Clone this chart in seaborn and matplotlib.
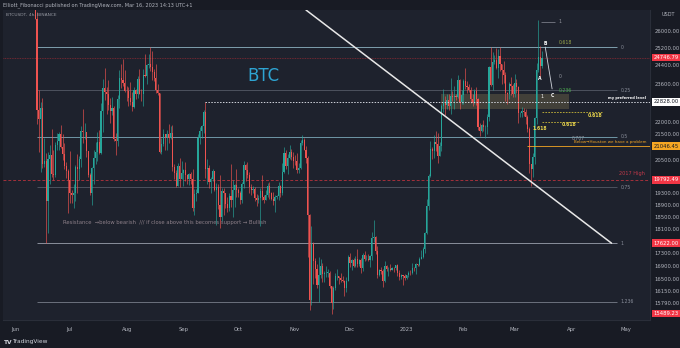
import numpy as np
import pandas as pd
import matplotlib
matplotlib.use("Agg")
import matplotlib.pyplot as plt
import seaborn as sns

# ---------------- data (daily BTCUSDT, read approximately) ----------------
start_date = "2022-06-10"
first_open = 30100
close = [
    # Jun 10-30
    29090, 28420, 26570, 22480, 22130, 22580, 20380, 20470, 19020, 20550, 20710, 20000, 19970, 21090, 21230, 21500, 21030, 20730, 20280, 20100, 19780,
    # Jul
    19300, 19240, 19310, 20240, 20180, 20560, 21640, 21590, 21590, 20850, 19960, 19330, 20230, 20590, 20830, 21200, 20790, 22430, 23400, 23220, 23150, 22680, 22450, 22580, 21310, 21250, 22950, 23850, 23770, 23640, 23290,
    # Aug
    23270, 22990, 22820, 22620, 23310, 23170, 23810, 23160, 23150, 23950, 23930, 24400, 24440, 24310, 24100, 23860, 23340, 23190, 20830, 21140, 21520, 21400, 21530, 21370, 21560, 20240, 20040, 19550, 20290, 19800, 20050,
    # Sep
    20130, 19950, 19830, 19990, 19800, 18790, 19290, 19320, 21360, 21650, 21830, 22400, 20170, 20230, 19700, 19800, 20110, 19420, 19540, 18880, 18480, 19400, 19300, 18920, 18810, 19220, 19080, 19410, 19590, 19420,
    # Oct
    19310, 19060, 19630, 20340, 20160, 19960, 19530, 19420, 19450, 19130, 19060, 19150, 19380, 19180, 19070, 19260, 19550, 19330, 19120, 19040, 19160, 19200, 19570, 19330, 20090, 20770, 20300, 20600, 20810, 20630, 20490,
    # Nov
    20480, 20150, 20210, 21150, 21300, 20910, 20590, 18540, 15880, 17590, 17070, 16810, 16330, 16620, 16900, 16660, 16690, 16700, 16700, 16280, 15780, 16230, 16600, 16600, 16520, 16460, 16430, 16220, 16440, 17170,
    # Dec
    16980, 17090, 16890, 17110, 16970, 17090, 16840, 17230, 17130, 17130, 17090, 17210, 17780, 17810, 17360, 16630, 16780, 16740, 16440, 16900, 16820, 16820, 16780, 16840, 16830, 16920, 16700, 16550, 16630, 16600, 16540,
    # Jan
    16620, 16680, 16670, 16850, 16830, 16950, 16940, 17130, 17180, 17440, 17940, 18850, 19930, 20950, 20870, 21190, 21130, 20680, 21070, 22670, 22780, 22710, 22920, 22630, 23060, 23010, 23080, 23030, 23740, 22830, 23130,
    # Feb
    23730, 23490, 23430, 23330, 22930, 22760, 23260, 22960, 21800, 21630, 21860, 21780, 21780, 22200, 24330, 23520, 24570, 24630, 24280, 24840, 24450, 24190, 23950, 23180, 23150, 23560, 23490, 23140,
    # Mar 1-16
    23630, 23470, 22350, 22350, 22430, 22410, 22200, 21700, 20360, 20190, 20620, 22160, 24190, 24770, 24380, 24746.79,
]
high = [
    30350, 29440, 28560, 26890, 23330, 22800, 22980, 21360, 20790, 20820, 21080, 21720, 20900, 21200, 21560, 21600, 21870, 21520, 21180, 20430, 20180,
    20870, 19420, 19650, 20350, 20730, 20670, 21840, 22530, 21950, 21610, 20870, 20050, 20260, 20880, 21200, 21590, 21680, 22780, 23800, 24280, 23440, 23760, 23000, 23010, 22650, 21560, 23100, 24200, 24440, 24670, 24200,
    23500, 23470, 23650, 23220, 23460, 23350, 23930, 24240, 23360, 24230, 24920, 24460, 24890, 25211, 25050, 24240, 24450, 23600, 23210, 21380, 21700, 21520, 21680, 21900, 21820, 21880, 20360, 20140, 20420, 20580, 20490,
    20200, 20440, 20000, 20020, 20060, 20180, 19460, 19450, 21500, 21800, 21860, 22490, 22800, 20540, 20330, 19900, 20190, 20100, 19690, 19640, 19960, 19490, 19500, 19310, 19180, 19310, 20380, 19790, 19650, 20190,
    19480, 19400, 19710, 20480, 20370, 20460, 20060, 19620, 19560, 19530, 19270, 19230, 19510, 19950, 19230, 19420, 19680, 19700, 19360, 19350, 19250, 19260, 19700, 19600, 20410, 21020, 20880, 20750, 21080, 20930, 20840,
    20700, 20800, 20390, 21300, 21480, 21370, 21070, 20670, 18590, 18190, 17660, 17150, 16950, 17190, 17130, 17000, 16750, 16900, 16820, 16750, 16290, 16300, 16680, 16810, 16600, 16700, 16600, 16480, 16550, 17250,
    17320, 17110, 17160, 17200, 17430, 17110, 17140, 17300, 17360, 17230, 17270, 17240, 18000, 18390, 17850, 17530, 16800, 16860, 16820, 17060, 16920, 16870, 16950, 16870, 16860, 16940, 16970, 16780, 16660, 16630, 16640,
    16630, 16760, 16770, 16990, 16880, 16990, 16960, 17170, 17400, 17490, 17990, 19100, 20000, 21260, 21000, 21470, 21650, 21560, 21190, 22750, 23370, 23080, 23170, 23160, 23820, 23290, 23500, 23170, 23960, 23790, 23320,
    23810, 24260, 23700, 23590, 23440, 23160, 23360, 23450, 22990, 21940, 21900, 22090, 21890, 22330, 24370, 25250, 25020, 24880, 25190, 25120, 25250, 24480, 24600, 24120, 23220, 23680, 23880, 23600,
    24000, 23780, 23480, 22420, 22610, 22560, 22530, 22270, 21800, 20370, 20800, 22190, 24490, 26500, 25280, 25060,
]
low = [
    28850, 28100, 26560, 21920, 20840, 20070, 20230, 20240, 17622, 17960, 19640, 19900, 19770, 19880, 20880, 20900, 20960, 20510, 20190, 19850, 18630,
    18970, 18980, 18780, 19040, 19300, 19770, 20250, 21180, 21320, 20650, 19880, 19230, 18910, 19620, 20380, 20480, 20750, 20760, 21580, 22900, 22340, 22500, 21950, 22260, 21250, 20700, 21040, 22580, 23410, 23500, 23230,
    22850, 22670, 22680, 22430, 22580, 22930, 22990, 23150, 22860, 22660, 23900, 23580, 24300, 24150, 23770, 23700, 23180, 23100, 20780, 20760, 21060, 20890, 20890, 21150, 21320, 20110, 19810, 19530, 19550, 19540, 19800,
    19560, 19750, 19650, 19600, 19640, 18680, 18540, 19020, 19300, 21110, 21360, 21550, 19860, 19620, 19500, 19330, 19750, 19390, 18230, 18750, 18130, 18360, 18540, 18810, 18640, 18680, 18820, 18470, 18840, 19160,
    19160, 18920, 18960, 19500, 19730, 19850, 19320, 19250, 19310, 19020, 18860, 18980, 18190, 19080, 18970, 19070, 19160, 19100, 19070, 18900, 18650, 19110, 19070, 19160, 19240, 20050, 20200, 20000, 20560, 20530, 20220,
    20350, 20050, 20030, 20180, 21080, 20880, 20390, 17170, 15590, 15750, 16360, 16530, 16230, 15820, 16530, 16400, 16410, 16560, 16550, 16240, 15476, 15630, 16170, 16460, 16360, 16400, 16400, 15990, 16110, 16430,
    16860, 16790, 16860, 16880, 16870, 16910, 16680, 16740, 17060, 17090, 17070, 16870, 17080, 17660, 17280, 16530, 16580, 16660, 16260, 16400, 16750, 16590, 16750, 16780, 16730, 16790, 16600, 16460, 16490, 16330, 16480,
    16500, 16550, 16610, 16650, 16750, 16660, 16910, 16910, 17110, 17140, 17310, 17910, 18720, 19890, 20550, 20610, 20860, 20400, 20660, 20860, 22420, 22290, 22520, 22470, 22330, 22850, 22530, 22880, 22990, 22540, 22720,
    22750, 23370, 23200, 23250, 22760, 22630, 22750, 22680, 21690, 21450, 21600, 21630, 21350, 21520, 22050, 23510, 23340, 24450, 24250, 23840, 24150, 23580, 23610, 22850, 22720, 22960, 23100, 23020,
    23030, 23210, 21970, 22200, 22180, 22250, 21930, 21590, 20050, 19550, 19900, 20370, 21900, 24110, 23890, 24270,
]

# price-axis ticks and tagged price labels
y_ticks = [26000, 25200, 24400, 23600, 22000, 21500, 20500, 19300, 18900, 18500, 18100, 17300, 16900, 16500, 16150, 15790]
tag_prices = [24746.79, 22828.00, 21046.45, 19792.49, 17622.00, 15489.23]
tag_colors = ["#f23645", "#ffffff", "#f5a623", "#f23645", "#f23645", "#f23645"]
tag_text_colors = ["white", "#131722", "#131722", "white", "white", "white"]

month_ticks = ["2022-06-01", "2022-07-01", "2022-08-01", "2022-09-01", "2022-10-01", "2022-11-01",
               "2022-12-01", "2023-01-01", "2023-02-01", "2023-03-01", "2023-04-01", "2023-05-01"]
month_labels = ["Jun", "Jul", "Aug", "Sep", "Oct", "Nov", "Dec", "2023", "Feb", "Mar", "Apr", "May"]

# Fibonacci retracement (Jun low -> Aug high)
fib_levels = ["0", "0.25", "0.5", "0.75", "1", "1.236"]
fib_prices = [25211, 23314, 21416, 19519, 17622, 15831]
fib_colors = ["#7f9fae", "#4d525e", "#6f97a6", "#4d525e", "#8a8f9b", "#6c717d"]
fib_start, fib_end = "2022-06-13", "2023-04-26"

# trend line (two anchor points)
trend_dates = ["2022-11-07", "2023-04-23"]
trend_prices = [27000, 17620]

# zone box
zone_dates = ["2023-01-20", "2023-03-31"]
zone_prices = [22520, 23150]

# wave labels (text, date, price, colour)
wave_text = ["1", "B", "0.618", "A", "0", "0.236", "C", "1", "1.618", "0.707", "0.618", "0.618"]
wave_date = ["2023-03-25", "2023-03-17", "2023-03-25", "2023-03-14", "2023-03-25", "2023-03-25",
             "2023-03-21", "2023-03-15", "2023-03-11", "2023-04-01", "2023-04-10", "2023-03-27"]
wave_price = [26420, 25400, 25440, 23830, 23910, 23320, 23080, 23040, 21720, 21330, 22260, 21900]
wave_color = ["#9598a1", "#ffffff", "#9aa84a", "#ffffff", "#9598a1", "#4caf50",
              "#ffffff", "#ffffff", "#e8d44d", "#9598a1", "#e8d44d", "#e8d44d"]
wave_path_dates = ["2023-03-17 18:00", "2023-03-21 12:00"]
wave_path_prices = [25230, 23370]
fib_dash_prices = [22410, 21990]
fib_dash_start = ["2023-03-16", "2023-03-16"]
fib_dash_end = ["2023-04-18", "2023-04-05"]

key_2017_high = 19792.49
preferred_level = 22828.00
houston_level = 21046.45
last_price = 24746.79

# ---------------- style ----------------
BG = "#1e222d"
HDR = "#181b24"
UP, DOWN = "#26a69a", "#ef5350"
TXT = "#b2b5be"

sns.set_style("dark", {"axes.facecolor": BG, "figure.facecolor": HDR,
                       "axes.edgecolor": "#2a2e39", "grid.color": "#262a35"})
plt.rcParams["font.family"] = ["DejaVu Sans"]

W, H = 680, 348
fig = plt.figure(figsize=(W / 100, H / 100), dpi=100)
ax = fig.add_axes([3 / W, 1 - 320 / H, 647 / W, 310 / H])
ax.set_facecolor(BG)

dates = pd.date_range(start_date, periods=len(close), freq="D")
c = np.array(close, dtype=float)
o = np.r_[first_open, c[:-1]]
hi = np.array(high, dtype=float)
lo = np.array(low, dtype=float)
up = c >= o
cols = np.where(up, UP, DOWN)

ax.set_yscale("log")
ax.set_ylim(15310, 27000)
ax.set_xlim(pd.Timestamp("2022-05-25 10:00"), pd.Timestamp("2023-05-14"))

# candles
ax.vlines(dates, lo, hi, colors=cols, lw=0.45, zorder=3)
ax.bar(dates, np.maximum(np.abs(c - o), 1), bottom=np.minimum(o, c), width=0.6,
       color=cols, lw=0, zorder=4)

# Fibonacci lines
for lvl, p, col in zip(fib_levels, fib_prices, fib_colors):
    ax.hlines(p, pd.Timestamp(fib_start), pd.Timestamp(fib_end), colors=col, lw=0.7, zorder=2)
    ax.text(pd.Timestamp("2023-04-28"), p, lvl, color="#8a8f9b", fontsize=3.3, va="center", ha="left")

# current price line
ax.axhline(last_price, color="#8c2a33", lw=0.6, ls=(0, (1, 1)), zorder=1)
# 2017 high
ax.axhline(key_2017_high, color="#a3303b", lw=0.7, ls=(0, (3, 2)), zorder=2)
ax.text(pd.Timestamp("2023-04-27"), key_2017_high * 1.006, "2017 High", color="#c2394a",
        fontsize=3.6, va="bottom", ha="left")
# preferred level
ax.hlines(preferred_level, pd.Timestamp("2022-09-13"), pd.Timestamp("2023-05-14"),
          colors="#d1d4dc", lw=0.7, ls=(0, (1.5, 1.5)), zorder=5)
ax.text(pd.Timestamp("2023-05-12"), preferred_level * 1.004, "my preferred level",
        color="white", fontsize=2.6, va="bottom", ha="right", fontweight="bold")
# houston line
ax.hlines(houston_level, pd.Timestamp("2023-03-08"), pd.Timestamp("2023-05-14"),
          colors="#f5a623", lw=0.6, zorder=5)
ax.text(pd.Timestamp("2023-05-12"), houston_level * 1.003, "Below\u2192Houston we have a problem",
        color="#f5a623", fontsize=2.9, va="bottom", ha="right")

# zone box
ax.fill_between(pd.to_datetime(zone_dates), zone_prices[0], zone_prices[1],
                color="#b09a5e", alpha=0.25, lw=0, zorder=2)

# trend line
ax.plot(pd.to_datetime(trend_dates), trend_prices, color="#e8e8e8", lw=1.1, zorder=6)

# wave annotation
ax.plot(pd.to_datetime(wave_path_dates), wave_path_prices, color="#d1d4dc", lw=0.6, zorder=7)
ax.hlines(26420, pd.Timestamp("2023-03-15 12:00"), pd.Timestamp("2023-03-23"),
          colors="#787b86", lw=0.6, zorder=7)
for p, d0, d1 in zip(fib_dash_prices, fib_dash_start, fib_dash_end):
    ax.hlines(p, pd.Timestamp(d0), pd.Timestamp(d1), colors="#c9b83a", lw=0.6,
              ls=(0, (2, 1.5)), zorder=7)
for t, d, p, col in zip(wave_text, wave_date, wave_price, wave_color):
    ax.text(pd.Timestamp(d), p, t, color=col, fontsize=3.3, ha="left", va="center", zorder=8,
            fontweight="bold" if t in ("A", "B", "C") or col == "#e8d44d" else "normal")

# texts
ax.text(pd.Timestamp("2022-10-15"), 23920, "BTC", color="#2ea4d2", fontsize=12,
        ha="center", va="center")
ax.text(pd.Timestamp("2022-06-27"), 18300,
        "Resistance  \u2192below bearish  /// if close above this becomes support \u2192 Bullish",
        color="#8c7f88", fontsize=3.8, ha="left", va="center")

# axes formatting
ax.yaxis.tick_right()
ax.yaxis.set_major_locator(matplotlib.ticker.FixedLocator(y_ticks))
ax.yaxis.set_minor_locator(matplotlib.ticker.NullLocator())
ax.set_yticklabels([f"{v:.2f}" for v in y_ticks])
ax.set_xticks(pd.to_datetime(month_ticks))
ax.set_xticklabels(month_labels)
ax.tick_params(axis="both", length=0, labelsize=3.8, labelcolor=TXT)
ax.tick_params(axis="y", pad=3)
ax.tick_params(axis="x", pad=5)
ax.grid(False)
for s in ["top", "left"]:
    ax.spines[s].set_visible(False)
for s in ["right", "bottom"]:
    ax.spines[s].set_color("#2a2e39")
    ax.spines[s].set_linewidth(0.8)

# price tags
for p, fc, tc in zip(tag_prices, tag_colors, tag_text_colors):
    ax.annotate(f"{p:.2f}", xy=(1, p), xycoords=("axes fraction", "data"),
                xytext=(2.5, 0), textcoords="offset points", fontsize=3.8, color=tc,
                va="center", ha="left",
                bbox=dict(boxstyle="square,pad=0.25", fc=fc, ec="none"))

# header / footer
fig.text(3 / W, 1 - 5 / H, "Elliott_Fibonacci published on TradingView.com, Mar 16, 2023 14:13 UTC+1",
         color=TXT, fontsize=3.6, va="center", ha="left")
fig.text(6 / W, 1 - 15 / H, "BTCUSDT, 4h, BINANCE", color="#9598a1", fontsize=3.2, va="center", ha="left")
fig.text(662 / W, 1 - 15 / H, "USDT", color=TXT, fontsize=3.6, va="center", ha="left")
fig.text(4 / W, 1 - 342 / H, "TV", color="#d1d4dc", fontsize=4.2, fontweight="bold", va="center", ha="left")
fig.text(12 / W, 1 - 342 / H, "TradingView", color="#d1d4dc", fontsize=4.2, va="center", ha="left")

fig.savefig("out.png", dpi=100, facecolor=HDR)
